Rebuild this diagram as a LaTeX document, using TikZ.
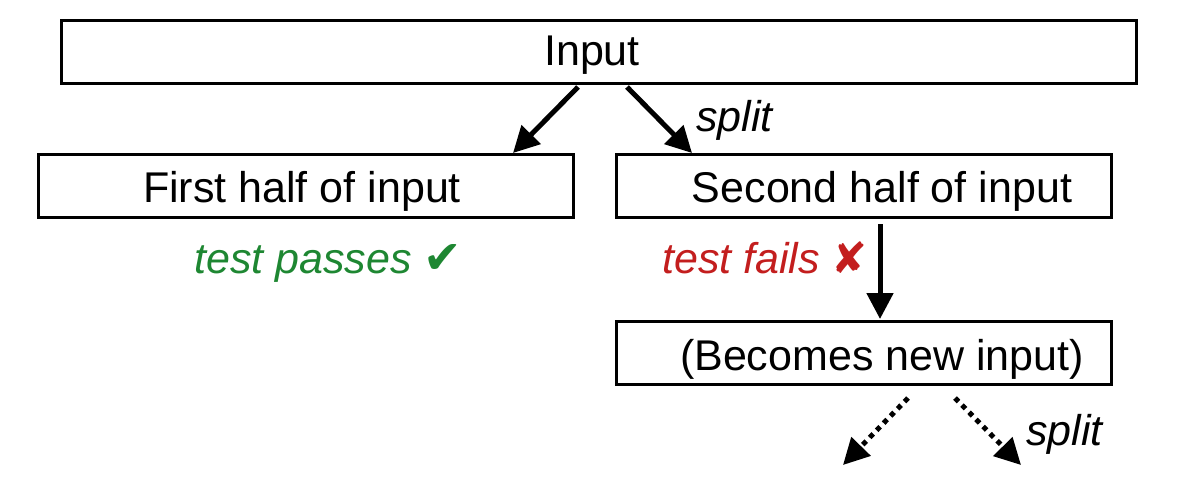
\documentclass[tikz,border=0pt]{standalone}
\usepackage{fontspec}
\setmainfont{Liberation Sans}
\newfontfamily\symfont{DejaVu Sans}
\usetikzlibrary{arrows.meta}
\definecolor{passgreen}{RGB}{30,135,50}
\definecolor{failred}{RGB}{195,30,30}
\begin{document}
\begin{tikzpicture}[x=1pt,y=-1pt,
  box/.style={draw=black,line width=2.6pt,inner sep=0pt,anchor=north west},
  txt/.style={font=\fontsize{43}{48}\selectfont,inner sep=0pt,anchor=base},
  lbl/.style={font=\fontsize{43}{48}\selectfont\itshape,inner sep=0pt,anchor=base west},
  arr/.style={line width=5pt,-{Triangle[length=26pt,width=26pt]}},
  darr/.style={line width=5pt,dash pattern=on 5pt off 5pt,-{Triangle[length=26pt,width=26pt]}}]
\useasboundingbox (0,0) rectangle (1177,495);
\node[box,minimum width=1075pt,minimum height=63pt] (input) at (60,19) {};
\node[txt] (inputt) at (592,66) {Input};
\node[box,minimum width=535pt,minimum height=63pt] (first) at (37,153) {};
\node[txt] (firstt) at (302,202) {First half of input};
\node[box,minimum width=495pt,minimum height=63pt] (second) at (615,153) {};
\node[txt] (secondt) at (882,202) {Second half of input};
\node[box,minimum width=495pt,minimum height=63pt] (becomes) at (615,320) {};
\node[txt] (becomest) at (882,370) {(Becomes new input)};
\node[lbl] (split1) at (696,131) {split};
\node[lbl,text=passgreen] (pass) at (194,273) {test passes {\symfont\upshape\fontsize{46}{48}\selectfont ✔}};
\node[lbl,text=failred] (fail) at (662,273) {test fails {\symfont\upshape ✘}};
\node[lbl] (split2) at (1026,445) {split};
\coordinate (a1s) at (578,87);
\coordinate (a1e) at (513,153);
\coordinate (a2s) at (627,87);
\coordinate (a2e) at (692,153);
\coordinate (a3s) at (880,224);
\coordinate (a3e) at (880,319);
\coordinate (d1s) at (908,398);
\coordinate (d1e) at (843,465);
\coordinate (d2s) at (955,398);
\coordinate (d2e) at (1021,465);
\draw[arr] (a1s) -- (a1e);
\draw[arr] (a2s) -- (a2e);
\draw[arr] (a3s) -- (a3e);
\draw[darr] (d1s) -- (d1e);
\draw[darr] (d2s) -- (d2e);
\end{tikzpicture}
\end{document}
